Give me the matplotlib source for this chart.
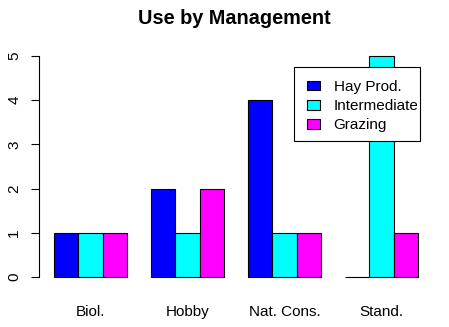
import matplotlib
matplotlib.use("Agg")
import matplotlib.pyplot as plt
from matplotlib.patches import Patch, Rectangle
import numpy as np

plt.rcParams['font.family'] = ['Liberation Sans', 'DejaVu Sans']

categories = ["Biol.", "Hobby", "Nat. Cons.", "Stand."]
series_names = ["Hay Prod.", "Intermediate", "Grazing"]
hay = [1, 2, 4, 0]
intermediate = [1, 1, 1, 5]
grazing = [1, 2, 1, 1]
colors = ["#0000FF", "#00FFFF", "#FF00FF"]
yticks = [0, 1, 2, 3, 4, 5]

W, H = 449, 327
fig = plt.figure(figsize=(W / 100, H / 100), dpi=100)
left, right, bottom, top = 39.4, 432.6, 285.8, 47.2
ax = fig.add_axes([left / W, 1 - bottom / H, (right - left) / W, (bottom - top) / H])

series = [hay, intermediate, grazing]
ng = len(categories)
for s, (vals, col) in enumerate(zip(series, colors)):
    xs = [1 + g * 4 + s for g in range(ng)]
    ax.bar(xs, vals, width=1, align='edge', color=col, edgecolor='black', linewidth=0.8, zorder=2)

ax.set_xlim(0.4, 16.6)
ax.set_ylim(-0.2, 5.2)
for sp in ['top', 'right', 'bottom']:
    ax.spines[sp].set_visible(False)
ax.spines['left'].set_bounds(0, 5)
ax.spines['left'].set_linewidth(0.8)
ax.set_yticks(yticks)
ax.set_yticklabels([str(t) for t in yticks], rotation=90, va='center', fontsize=11)
ax.tick_params(axis='y', length=6, width=0.8, pad=7)
centers = [2.5 + 4 * g for g in range(ng)]
ax.set_xticks(centers)
ax.set_xticklabels(categories, fontsize=11)
ax.tick_params(axis='x', length=0, pad=14)

fig.text(234 / W, 1 - 19 / H, "Use by Management", fontsize=14.3, fontweight='bold',
         ha='center', va='center')

# legend frame (R style, drawn over the bars)
frame = Rectangle((294 / W, 1 - 141 / H), (420 - 294) / W, (141 - 67) / H,
                  transform=fig.transFigure, facecolor='white', edgecolor='black',
                  linewidth=0.8, zorder=4)
fig.add_artist(frame)

handles = [Patch(facecolor=c, edgecolor='black', linewidth=0.8) for c in colors]
leg = ax.legend(handles, series_names, loc='upper left',
                bbox_to_anchor=(307 / W, 1 - 80 / H), bbox_transform=fig.transFigure,
                fontsize=11, frameon=False,
                handlelength=0.85, handleheight=0.6, handletextpad=0.9,
                labelspacing=0.33, borderpad=0, borderaxespad=0)
ax.legend_ = None
fig.add_artist(leg)
leg.set_zorder(6)

fig.savefig("out.png", dpi=100)
